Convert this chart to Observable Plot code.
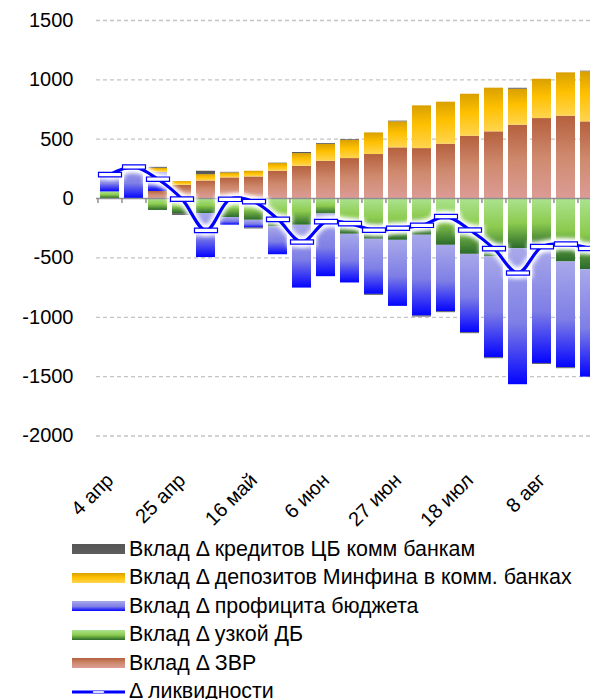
<!DOCTYPE html>
<html><head><meta charset="utf-8">
<script src="https://cdn.jsdelivr.net/npm/d3@7"></script>
<script src="https://cdn.jsdelivr.net/npm/@observablehq/plot@0.6"></script>
<style>
html,body{margin:0;padding:0;background:#fff;overflow:hidden;}
#wrap{width:590px;height:699px;overflow:hidden;position:relative;font-family:"Liberation Sans",Arial,sans-serif;}
#chart{position:absolute;left:0;top:0;width:604px;}
#chart svg{max-width:none !important;}
#legend{position:absolute;left:72px;top:535px;}
.row{display:flex;align-items:center;height:28.5px;}
.sw{width:53px;height:10px;margin-right:4px;flex:none;}
.lab{font-size:21.4px;color:#000;white-space:nowrap;line-height:1;}
</style></head><body><div id="wrap"><div id="chart"></div><div id="legend"></div></div>
<script>
// ---- data (weekly) ----
const weeks = ["4 апр","11 апр","18 апр","25 апр","2 май","9 май","16 май","23 май","30 май","6 июн","13 июн","20 июн","27 июн","4 июл","11 июл","18 июл","25 июл","1 авг","8 авг","15 авг","22 авг"];
const tickLabels = ["4 апр","25 апр","16 май","6 июн","27 июн","18 июл","8 авг"];
const yTicks = [1500, 1000, 500, 0, -500, -1000, -1500, -2000];
const seriesNames = ["Вклад Δ ЗВР","Вклад Δ узкой ДБ","Вклад Δ профицита бюджета","Вклад Δ депозитов Минфина в комм. банках","Вклад Δ кредитов ЦБ комм банкам"];
const reserves       = [0,   0,   60, 112, 148, 174, 182, 230, 272, 314, 337, 371, 427, 421, 458, 525, 562, 618, 674, 694, 646];
const narrowBase     = [56,  0, -100,-127,-126,-160,-183,-239,-225,-130,-301,-343,-352,-309,-394,-470,-492,-422,-420,-534,-599];
const budgetSurplus  = [146,274, 160,   0,-371, -64, -65,-234,-529,-528,-410,-464,-556,-681,-559,-660,-849,-1146,-969,-891,-905];
const minfinDeposits = [0,   0,  35,  31,  54,  42,  48,  65, 107, 143, 154, 182, 219, 360, 354, 354, 368, 303, 331, 365, 422];
const cbCredits      = [0,  -8,   8, -15,  28,   5,  -8,   3,   9,   7,   6,  -8,   6,  -8,  -8,  -8,  -8,   8,  -8,  -8,   5];
const liquidity      = [202,266,163, -5,-268,  -6, -26,-175,-366,-194,-211,-266,-250,-225,-152,-265,-422,-627,-405,-383,-420];
const liquidityName = "Δ ликвидности";

const seriesValues = [reserves, narrowBase, budgetSurplus, minfinDeposits, cbCredits];
const gradIds = ["gZVR","gDB","gProf","gDep","gCred"];
const gradStops = [
  [["0%","#b5603d"],["50%","#cf8a6e"],["100%","#dc9c96"]],
  [["0%","#ace390"],["50%","#8ccb4e"],["100%","#2b6a2b"]],
  [["0%","#a8a8ea"],["55%","#7e7ee6"],["100%","#0404ff"]],
  [["0%","#d9a000"],["45%","#ffc000"],["100%","#ffd550"]],
  [["0%","#555555"],["100%","#5e5e5e"]]
];

const stackData = [];
seriesNames.forEach((s, k) => weeks.forEach((w, i) => stackData.push({week: w, series: s, value: seriesValues[k][i]})));
const liqData = weeks.map((w, i) => ({week: w, value: liquidity[i]}));

const defsMark = () => {
  const defs = d3.create("svg:defs");
  gradIds.forEach((id, k) => {
    const g = defs.append("linearGradient").attr("id", id).attr("x1", 0).attr("y1", 0).attr("x2", 0).attr("y2", 1);
    gradStops[k].forEach(([o, c]) => g.append("stop").attr("offset", o).attr("stop-color", c));
  });
  const f = defs.append("filter").attr("id", "glow").attr("x", "-10%").attr("y", "-30%").attr("width", "120%").attr("height", "160%");
  f.append("feGaussianBlur").attr("stdDeviation", 2);
  return defs.node();
};

const markerSymbol = {draw(ctx) { ctx.moveTo(-11.5,-2.2); ctx.lineTo(11.5,-2.2); ctx.lineTo(11.5,2.2); ctx.lineTo(-11.5,2.2); ctx.closePath(); }};

const chart = Plot.plot({
  width: 604, height: 520,
  marginLeft: 96, marginRight: 2, marginTop: 20, marginBottom: 84.5,
  style: {fontFamily: '"Liberation Sans", Arial, sans-serif', fontSize: "20px", color: "#000", background: "transparent", overflow: "visible", maxWidth: "none"},
  x: {domain: weeks, paddingInner: 0.21, paddingOuter: 0.105, label: null, ticks: tickLabels, tickSize: 0, tickPadding: 41, tickRotate: -45},
  y: {domain: [-2000, 1500], nice: false, label: null, ticks: yTicks, tickSize: 0, tickPadding: 23, tickFormat: d => String(d)},
  color: {domain: seriesNames, range: gradIds.map(id => `url(#${id})`)},
  marks: [
    defsMark,
    Plot.ruleY(yTicks.filter(d => d !== 0), {stroke: "#c4c4c4", strokeWidth: 1.3, strokeDasharray: "4,3"}),
    Plot.barY(stackData, {x: "week", y: "value", fill: "series"}),
    Plot.ruleY([0], {stroke: "#8f8f8f", strokeWidth: 1.5}),
    Plot.ruleX(weeks, {x: d => d, y1: 0, y2: -42, dx: -12.05, stroke: "#8f8f8f", strokeWidth: 1.5}),
    Plot.line(liqData, {x: "week", y: "value", curve: "catmull-rom", stroke: "white", strokeWidth: 9}),
    Plot.dot(liqData, {x: "week", y: "value", symbol: markerSymbol, fill: "white", stroke: "white", strokeWidth: 6}),
    Plot.line(liqData, {x: "week", y: "value", curve: "catmull-rom", stroke: "#0000ff", strokeWidth: 3.2}),
    Plot.dot(liqData, {x: "week", y: "value", symbol: markerSymbol, fill: "white", stroke: "#0000ff", strokeWidth: 1.2})
  ]
});
const lg = chart.querySelectorAll('g[aria-label="line"]');
if (lg[0]) lg[0].setAttribute("filter", "url(#glow)");
const dg = chart.querySelectorAll('g[aria-label="dot"]');
if (dg[0]) dg[0].setAttribute("filter", "url(#glow)");
chart.style.maxWidth = "none";
document.getElementById("chart").appendChild(chart);

// ---- legend ----
const legendItems = [
  {label: seriesNames[4], k: 4},
  {label: seriesNames[3], k: 3},
  {label: seriesNames[2], k: 2},
  {label: seriesNames[1], k: 1},
  {label: seriesNames[0], k: 0},
  {label: liquidityName, line: true}
];
const legend = document.getElementById("legend");
legendItems.forEach(it => {
  const row = document.createElement("div"); row.className = "row";
  if (it.line) {
    const sw = document.createElementNS("http://www.w3.org/2000/svg", "svg");
    sw.setAttribute("width", 53); sw.setAttribute("height", 10); sw.style.marginRight = "4px"; sw.style.flex = "none";
    sw.innerHTML = '<line x1="0" y1="5" x2="53" y2="5" stroke="#0000ff" stroke-width="3"/><rect x="21" y="4" width="11" height="2" fill="#fff" stroke="#6a6aff" stroke-width="0.5"/>';
    row.appendChild(sw);
  } else {
    const sw = document.createElement("div"); sw.className = "sw";
    const st = gradStops[it.k];
    sw.style.background = `linear-gradient(to bottom, ${st.map(([o, c]) => c + " " + o).join(", ")})`;
    row.appendChild(sw);
  }
  const lab = document.createElement("span"); lab.className = "lab"; lab.textContent = it.label;
  row.appendChild(lab);
  legend.appendChild(row);
});
</script></body></html>
